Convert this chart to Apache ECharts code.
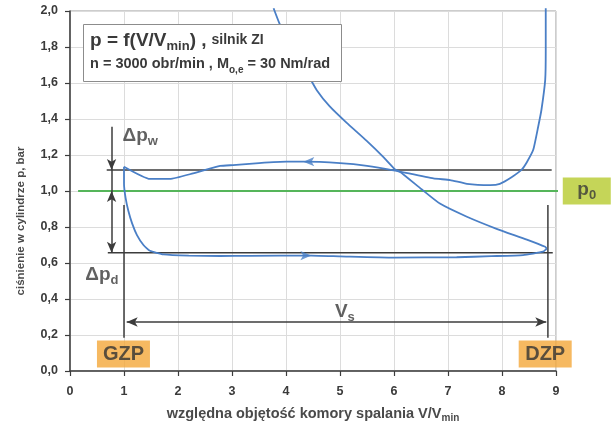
<!DOCTYPE html>
<html><head><meta charset="utf-8">
<script src="https://cdn.jsdelivr.net/npm/echarts@6/dist/echarts.min.js"></script>
<style>html,body{margin:0;padding:0;background:#fff}#c{width:611px;height:428px}</style>
</head><body><div id="c"></div>
<script>
// ---- data ----
const xMin = 0, xMax = 9, xStep = 1;
const yMin = 0, yMax = 2, yStep = 0.2;

// intake stroke (GZP -> DZP)
const intakeV = [1.00, 1.00, 1.03, 1.08, 1.15, 1.24, 1.36, 1.48, 1.73, 2.20, 2.78, 3.33, 4.47, 5.00, 5.99, 7.16, 7.80, 8.39, 8.76, 8.83];
const intakeP = [1.135, 1.04, 0.96, 0.89, 0.82, 0.755, 0.70, 0.668, 0.648, 0.641, 0.639, 0.640, 0.641, 0.637, 0.630, 0.632, 0.638, 0.644, 0.663, 0.68];

// compression stroke (DZP -> above the top of the chart)
const compV = [8.83, 8.80, 8.46, 7.90, 7.35, 6.85, 6.51, 6.11, 6.02, 5.80, 5.49, 5.12, 4.81, 4.57, 4.38, 4.14, 3.88, 3.77];
const compP = [0.68, 0.69, 0.73, 0.79, 0.857, 0.93, 1.01, 1.107, 1.12, 1.19, 1.28, 1.38, 1.47, 1.56, 1.66, 1.78, 1.93, 2.015];

// expansion + exhaust stroke (top -> GZP)
const exhV = [8.81, 8.81, 8.80, 8.73, 8.67, 8.58, 8.46, 8.36, 8.17, 7.96, 7.78, 7.35, 7.04, 6.73, 5.99, 5.50, 5.00, 4.32, 4.01, 3.50, 3.02, 2.78, 2.28, 1.85, 1.48, 1.00];
const exhP = [2.015, 1.78, 1.617, 1.45, 1.357, 1.23, 1.16, 1.117, 1.075, 1.04, 1.033, 1.04, 1.061, 1.07, 1.115, 1.14, 1.155, 1.163, 1.163, 1.155, 1.144, 1.139, 1.098, 1.067, 1.067, 1.135];

// direction arrows on the loop
const flowArrowV = [4.32, 4.47];
const flowArrowP = [1.163, 0.641];
const flowArrowDir = ['left', 'right'];

// ambient pressure p0
const p0Value = 1.0;
const p0LineV = [0.15, 9.13];

// reference levels
const upperLevelP = 1.117, lowerLevelP = 0.657;
const upperLevelV = [0.68, 8.92], lowerLevelV = [0.70, 8.94];
const gzpV = 1.0, dzpV = 8.85;
const deadCentreLineP = [0.922, 0.185];
const strokeArrowP = 0.272, strokeArrowV = [1.05, 8.82];
const dpArrowV = 0.77;
const dpwArrowP = [1.357, 1.117];
const dpdArrowP = [1.0, 0.657];

// annotation texts
const annoText = ['{b|Δp}{s|w}', '{b|Δp}{s|d}', '{b|V}{s|s}'];
const annoV = [1.30, 0.59, 5.09];
const annoP = [1.305, 0.535, 0.33];
const boxText = ['GZP', 'DZP'];
const boxV = [0.99, 8.80];
const boxP = [0.094, 0.094];

// ---- chart ----
const zip = (a, b) => a.map((v, i) => [v, b[i]]);
const FONT = '"Liberation Sans", Arial, sans-serif';
const BLUE = '#4a7fc6', DARK = '#3c3c3c', TXT = '#3a3a3a';

const blueLine = (name, data) => ({
  name, type: 'line', data, showSymbol: false, smooth: 0.15, clip: false, z: 5,
  lineStyle: { color: BLUE, width: 1.8 }, silent: true
});
const blackLine = (data) => ({
  type: 'line', data, showSymbol: false, clip: false, z: 3, silent: true,
  lineStyle: { color: DARK, width: 1.5 }
});

const arrowItem = (from, to, s1, s2) => [
  { coord: from, symbol: s1 }, { coord: to, symbol: s2 }
];

const chart = echarts.init(document.getElementById('c'), null, { renderer: 'canvas' });
chart.setOption({
  animation: false,
  textStyle: { fontFamily: FONT },
  title: {
    left: 83, top: 21,
    padding: [7, 12, 7, 7],
    backgroundColor: '#fff', borderColor: '#8c8c8c', borderWidth: 1,
    text: '{a|p = f(V/V}{as|min}{a|) ,} {c|silnik ZI}\n{d|n = 3000 obr/min , M}{ds|o,e}{d| = 30 Nm/rad}',
    textStyle: {
      rich: {
        a: { fontFamily: FONT, fontSize: 19, fontWeight: 'bold', color: TXT, lineHeight: 25 },
        as: { fontFamily: FONT, fontSize: 13, fontWeight: 'bold', color: TXT, lineHeight: 15, verticalAlign: 'bottom' },
        c: { fontFamily: FONT, fontSize: 14, fontWeight: 'bold', color: TXT, lineHeight: 25 },
        d: { fontFamily: FONT, fontSize: 14.5, fontWeight: 'bold', color: TXT, lineHeight: 22 },
        ds: { fontFamily: FONT, fontSize: 10, fontWeight: 'bold', color: TXT, lineHeight: 13, verticalAlign: 'bottom' }
      }
    }
  },
  grid: { left: 70, right: 55, top: 11, bottom: 57, show: true, borderColor: '#9a9a9a', borderWidth: 1 },
  xAxis: {
    type: 'value', min: xMin, max: xMax, interval: xStep,
    name: '{n|względna objętość komory spalania V/V}{s|min}',
    nameLocation: 'middle', nameGap: 34,
    nameTextStyle: { rich: {
      n: { fontFamily: FONT, fontSize: 14.5, fontWeight: 'bold', color: '#4a4a4a', lineHeight: 18 },
      s: { fontFamily: FONT, fontSize: 10, fontWeight: 'bold', color: '#4a4a4a', lineHeight: 12, verticalAlign: 'bottom' }
    } },
    axisLine: { show: true, onZero: false, lineStyle: { color: DARK, width: 1.5 } },
    axisTick: { show: true, length: 5, lineStyle: { color: DARK, width: 1.2 } },
    axisLabel: { fontSize: 12.5, fontWeight: 'bold', color: TXT, margin: 14, fontFamily: FONT },
    splitLine: { show: true, lineStyle: { color: '#dcdcdc', width: 1 } }
  },
  yAxis: {
    type: 'value', min: yMin, max: yMax, interval: yStep,
    name: 'ciśnienie w cylindrze p, bar',
    nameLocation: 'middle', nameGap: 43, nameRotate: 90,
    nameTextStyle: { fontFamily: FONT, fontSize: 11.5, fontWeight: 'bold', color: '#4a4a4a', padding: [0, 60, 0, 0] },
    axisLine: { show: true, onZero: false, lineStyle: { color: DARK, width: 1.5 } },
    axisTick: { show: true, length: 5, lineStyle: { color: DARK, width: 1.2 } },
    axisLabel: { fontSize: 12.5, fontWeight: 'bold', color: TXT, margin: 12, fontFamily: FONT,
      formatter: v => v.toFixed(1).replace('.', ',') },
    splitLine: { show: true, lineStyle: { color: '#dcdcdc', width: 1 } }
  },
  series: [
    { type: 'line', data: p0LineV.map(v => [v, p0Value]), showSymbol: false, clip: false, z: 2, silent: true,
      lineStyle: { color: '#55b55a', width: 1.8 } },
    blackLine(upperLevelV.map(v => [v, upperLevelP])),
    blackLine(lowerLevelV.map(v => [v, lowerLevelP])),
    blackLine(deadCentreLineP.map(p => [gzpV, p])),
    blackLine(deadCentreLineP.map(p => [dzpV, p])),
    blueLine('intake', zip(intakeV, intakeP)),
    blueLine('compression', zip(compV, compP)),
    blueLine('exhaust', zip(exhV, exhP)),
    { type: 'scatter', silent: true, z: 6, clip: false,
      data: flowArrowV.map((v, i) => ({ value: [v, flowArrowP[i]], symbolRotate: flowArrowDir[i] === 'left' ? 90 : -90 })),
      symbol: 'arrow', symbolSize: [7, 11], itemStyle: { color: BLUE } },
    { type: 'line', data: [], silent: true, z: 4,
      markLine: {
        silent: true, animation: false, symbolSize: [7, 11],
        label: { show: false },
        lineStyle: { color: DARK, width: 1.5, type: 'solid' },
        emphasis: { disabled: true },
        data: [
          arrowItem([dpArrowV, dpwArrowP[0]], [dpArrowV, dpwArrowP[1]], 'none', 'arrow'),
          arrowItem([dpArrowV, dpwArrowP[1]], [dpArrowV, dpdArrowP[0]], 'none', 'none'),
          arrowItem([dpArrowV, dpdArrowP[0]], [dpArrowV, dpdArrowP[1]], 'arrow', 'arrow'),
          arrowItem([strokeArrowV[0], strokeArrowP], [strokeArrowV[1], strokeArrowP], 'arrow', 'arrow')
        ]
      } },
    { type: 'scatter', silent: true, z: 7, clip: false, symbolSize: 1, itemStyle: { color: 'rgba(0,0,0,0)' },
      data: annoText.map((t, i) => ({ value: [annoV[i], annoP[i]], label: { formatter: t } })),
      label: { show: true, position: 'inside', rich: {
        b: { fontFamily: FONT, fontSize: 19, fontWeight: 'bold', color: TXT, lineHeight: 24 },
        s: { fontFamily: FONT, fontSize: 13, fontWeight: 'bold', color: TXT, lineHeight: 16, verticalAlign: 'bottom' }
      } } },
    { type: 'scatter', silent: true, z: 8, clip: false, symbolSize: 1, itemStyle: { color: 'rgba(0,0,0,0)' },
      data: boxText.map((t, i) => ({ value: [boxV[i], boxP[i]], label: { formatter: t } })),
      label: { show: true, position: 'inside', fontFamily: FONT, fontSize: 20, fontWeight: 'bold', color: '#333',
        backgroundColor: '#f4a83a', width: 47, height: 21, align: 'center', lineHeight: 21, padding: [3, 3, 3, 3] } },
    { type: 'scatter', silent: true, z: 8, clip: false, symbolSize: 1, itemStyle: { color: 'rgba(0,0,0,0)' },
      data: [{ value: [9.57, p0Value] }],
      label: { show: true, position: 'inside', formatter: '{p|p}{s|0}', backgroundColor: '#b6ca2e',
        width: 48, height: 27, align: 'center', padding: 0,
        rich: {
          p: { fontFamily: FONT, fontSize: 19, fontWeight: 'bold', color: '#3a3a3a', lineHeight: 24 },
          s: { fontFamily: FONT, fontSize: 13, fontWeight: 'bold', color: '#3a3a3a', lineHeight: 16, verticalAlign: 'bottom' }
        } } }
  ]
});
</script></body></html>
